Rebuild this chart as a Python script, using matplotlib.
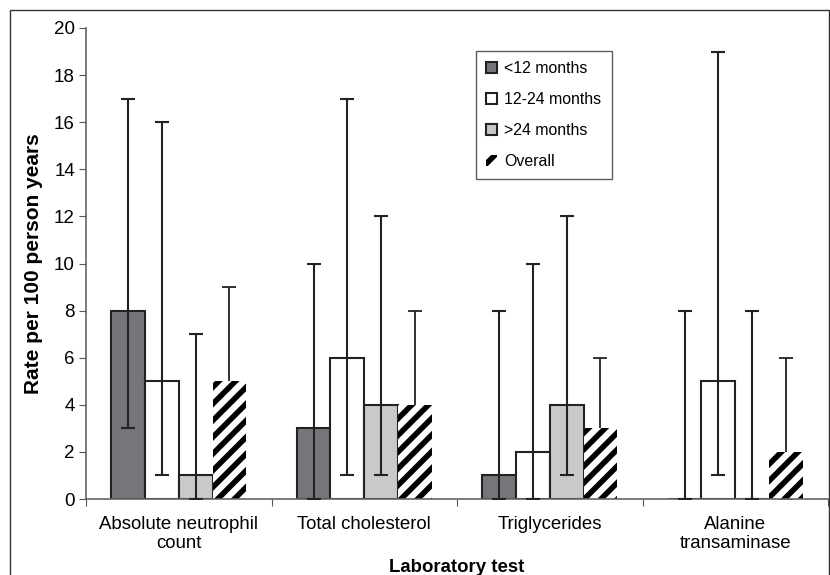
import matplotlib
matplotlib.use("Agg")
import matplotlib.pyplot as plt
import numpy as np
from matplotlib.patches import Rectangle

plt.rcParams['font.family'] = ['Liberation Sans', 'DejaVu Sans']
plt.rcParams['hatch.linewidth'] = 4.0

categories = ["Absolute neutrophil\ncount", "Total cholesterol", "Triglycerides", "Alanine\ntransaminase"]
series = ["<12 months", "12-24 months", ">24 months", "Overall"]
values = {
    "<12 months":   [8, 3, 1, 0],
    "12-24 months": [5, 6, 2, 5],
    ">24 months":   [1, 4, 4, 0],
    "Overall":      [5, 4, 3, 2],
}
lower = {
    "<12 months":   [3, 0, 0, 0],
    "12-24 months": [1, 1, 0, 1],
    ">24 months":   [0, 1, 1, 0],
    "Overall":      [2, 1, 1, 0],
}
upper = {
    "<12 months":   [17, 10, 8, 8],
    "12-24 months": [16, 17, 10, 19],
    ">24 months":   [7, 12, 12, 8],
    "Overall":      [9, 8, 6, 6],
}
colors = {"<12 months": "#75767a", "12-24 months": "#ffffff", ">24 months": "#c8c9cb", "Overall": "#ffffff"}

fig = plt.figure(figsize=(8.3, 5.75), dpi=100)
ax = fig.add_axes([86/830, 1-499/575, (828-86)/830, (499-28)/575])

x = np.arange(len(categories))
w = 0.182
offs = (np.arange(4) - 1.5) * w
for i, s in enumerate(series):
    v = np.array(values[s])
    lo = v - np.array(lower[s])
    hi = np.array(upper[s]) - v
    if s == "Overall":
        ax.errorbar(x + offs[i], v, yerr=[lo, hi], fmt='none', ecolor='#222222',
                    elinewidth=1.3, capsize=5, capthick=1.3, zorder=1)
        ax.bar(x + offs[i], v, w, color='white', edgecolor='black', hatch='//',
               linewidth=0, zorder=2, label=s)
    else:
        ax.bar(x + offs[i], v, w, color=colors[s], edgecolor='#222222', linewidth=1.5,
               zorder=2, label=s)
        ax.errorbar(x + offs[i], v, yerr=[lo, hi], fmt='none', ecolor='#222222',
                    elinewidth=1.5, capsize=5, capthick=1.5, zorder=3)

ax.set_xlim(-0.5, 3.5)
ax.set_ylim(0, 20)
ax.set_yticks(np.arange(0, 21, 2))
ax.set_xticks(np.arange(-0.5, 4, 1))
ax.set_xticklabels([])
ax.set_xticks(x, minor=True)
ax.set_xticklabels(categories, minor=True, fontsize=13.4)
ax.tick_params(axis='x', which='minor', length=0, pad=12)
ax.tick_params(axis='x', which='major', length=5, color='#555555', direction='out')
ax.tick_params(axis='y', length=5, color='#555555', labelsize=13.5, pad=3)
for sp in ['top', 'right']:
    ax.spines[sp].set_visible(False)
for sp in ['left', 'bottom']:
    ax.spines[sp].set_color('#666666')
    ax.spines[sp].set_linewidth(1.2)
ax.set_ylabel("Rate per 100 person years", fontsize=15, fontweight='bold', labelpad=8)
ax.set_xlabel("Laboratory test", fontsize=13.4, fontweight='bold', labelpad=5)

leg = ax.legend(loc='upper left', bbox_to_anchor=((476-86)/742, (499-51)/471),
                frameon=True, fancybox=False, edgecolor='#333333', fontsize=11.4,
                handlelength=0.65, handleheight=0.65, handletextpad=0.5,
                labelspacing=1.0, borderpad=0.65, borderaxespad=0)
leg.get_frame().set_linewidth(1.0)

fig.patches.append(Rectangle((10/830, -0.01), (829-10)/830, 1 - 10/575 + 0.01,
                             transform=fig.transFigure, fill=False,
                             edgecolor='#333333', linewidth=1.0))

fig.savefig("out.png", dpi=100)
